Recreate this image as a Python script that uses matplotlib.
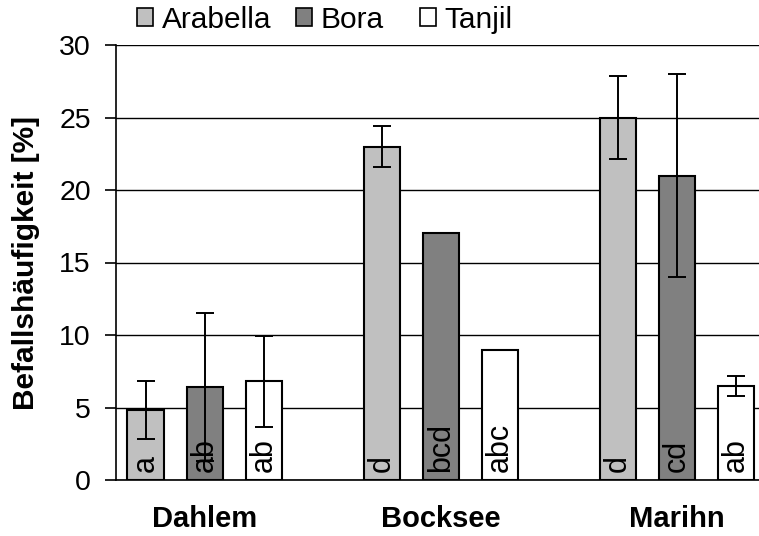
import matplotlib
matplotlib.use("Agg")
import matplotlib.pyplot as plt
import numpy as np
from matplotlib.patches import Patch

plt.rcParams['font.family'] = ['Liberation Sans', 'DejaVu Sans']

sites = ["Dahlem", "Bocksee", "Marihn"]
varieties = ["Arabella", "Bora", "Tanjil"]
colors = ["#C0C0C0", "#808080", "#FFFFFF"]

# infestation frequency (%) per variety, one value per site
arabella = [4.8, 23.0, 25.0]
bora = [6.4, 17.05, 21.0]
tanjil = [6.8, 9.0, 6.5]

arabella_err = [2.0, 1.4, 2.85]
bora_err = [5.1, 0.0, 7.0]
tanjil_err = [3.15, 0.0, 0.7]

arabella_sig = ["a", "d", "d"]
bora_sig = ["ab", "bcd", "cd"]
tanjil_sig = ["ab", "abc", "ab"]

values = [arabella, bora, tanjil]
errors = [arabella_err, bora_err, tanjil_err]
letters = [arabella_sig, bora_sig, tanjil_sig]

W, H = 759, 536
fig = plt.figure(figsize=(W / 100, H / 100), dpi=100)
ax = fig.add_axes([116 / W, 56 / H, 645 / W, 435 / H])

x = np.arange(len(sites))
offsets = [-0.25, 0.0, 0.25]
width = 0.153

for vals, errs, sig, off, col, name in zip(values, errors, letters, offsets, colors, varieties):
    ax.bar(x + off, vals, width=width, color=col, edgecolor="black",
           linewidth=1.5, zorder=3, label=name)
    ax.errorbar(x + off, vals, yerr=errs, fmt="none", ecolor="black",
                elinewidth=1.4, capsize=6.5, capthick=1.4, zorder=4)
    for xi, s in zip(x + off, sig):
        ax.annotate(s, (xi, 0), xytext=(0, 6), textcoords="offset points",
                    rotation=90, ha="center", va="bottom", fontsize=22,
                    zorder=5)

ax.set_ylim(0, 30)
ax.set_xlim(-0.375, 2.355)
ax.set_yticks(np.arange(0, 31, 5))
ax.yaxis.grid(True, color="black", linewidth=1.0, zorder=0)
ax.set_axisbelow(True)

for s in ["top", "right"]:
    ax.spines[s].set_visible(False)
ax.spines["left"].set_linewidth(1.2)
ax.spines["bottom"].set_linewidth(1.2)

ax.tick_params(axis="y", direction="out", length=8, width=1.2, labelsize=20.5, pad=10)
ax.tick_params(axis="x", length=0, pad=18)
ax.set_xticks(x)
ax.set_xticklabels(sites, fontsize=21, fontweight="bold")
ax.set_ylabel("Befallshäufigkeit [%]", fontsize=21.5, fontweight="bold", labelpad=14)

# legend entries placed individually across the top
legend_x = [137, 296, 420]
for name, col, lx in zip(varieties, colors, legend_x):
    h = Patch(facecolor=col, edgecolor="black", linewidth=1.2)
    fig.legend([h], [name], loc="center left", bbox_to_anchor=(lx / W, 1 - 20 / H),
               frameon=False, fontsize=21.5, handlelength=0.55, handleheight=0.55,
               handletextpad=0.28, borderaxespad=0, borderpad=0)

fig.savefig("out.png", dpi=100)
